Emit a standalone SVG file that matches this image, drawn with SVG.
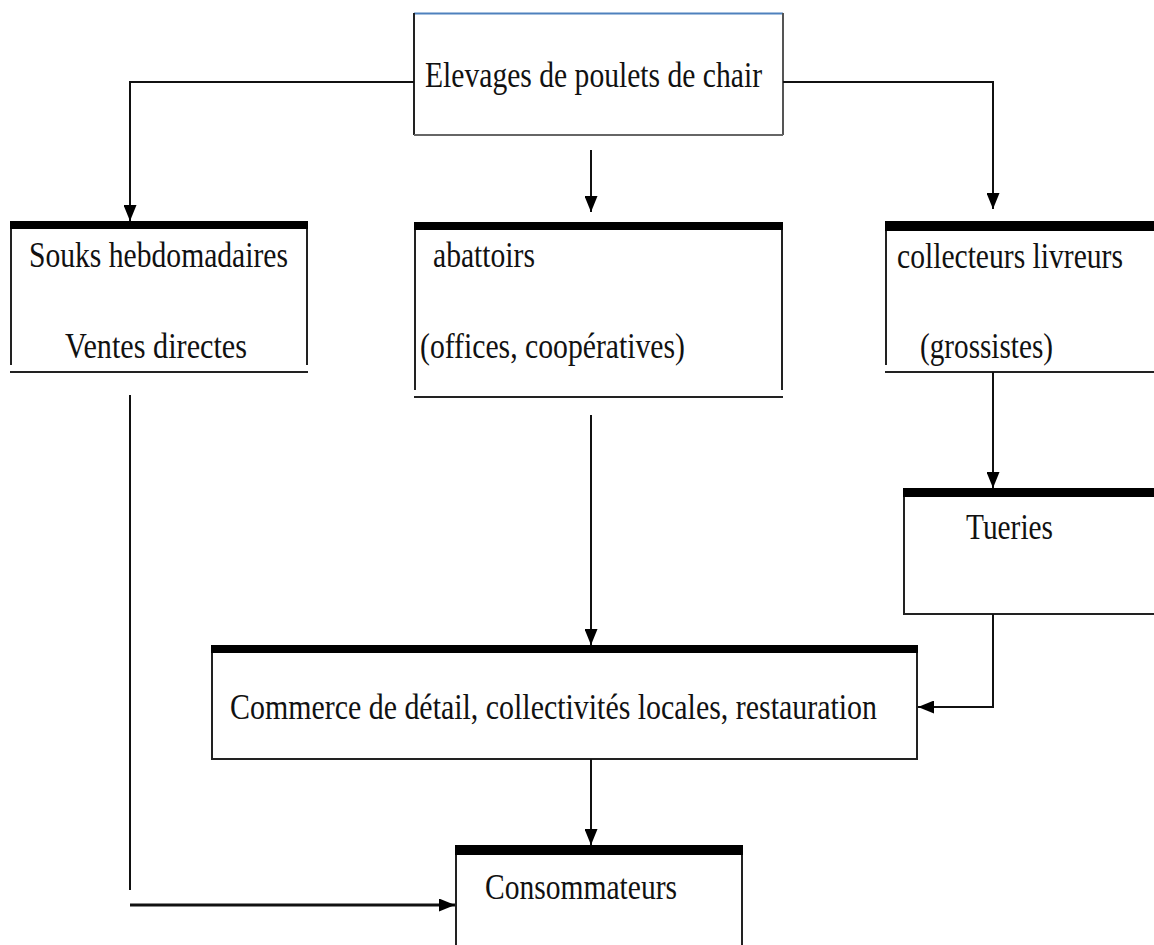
<svg xmlns="http://www.w3.org/2000/svg" width="1154" height="945" viewBox="0 0 1154 945">
<defs>
<marker id="ah" markerUnits="userSpaceOnUse" markerWidth="16" markerHeight="13" viewBox="0 0 16 13" refX="16" refY="6.5" orient="auto">
<path d="M0,0 L16,6.5 L0,13 Z" fill="#000"/>
</marker>
<style>
.t{font-family:"Liberation Serif","Times New Roman",serif;font-size:35px;fill:#111;}
.ln{stroke:#222;stroke-width:2;fill:none;}
.bar{fill:#000;}
.c{stroke:#111;stroke-width:2;fill:none;}
.ca{stroke:#111;stroke-width:2;fill:none;marker-end:url(#ah);}
</style>
</defs>
<rect width="1154" height="945" fill="#fff"/>

<g id="elevages">
<line x1="414" y1="13.5" x2="783" y2="13.5" stroke="#4f81bd" stroke-width="2"/>
<line class="ln" x1="414" y1="13" x2="414" y2="135"/>
<line x1="783" y1="13" x2="783" y2="135" stroke="#555" stroke-width="2"/>
<line x1="414" y1="135" x2="783" y2="135" stroke="#666" stroke-width="2"/>
<text class="t" x="425" y="87" textLength="337" lengthAdjust="spacingAndGlyphs">Elevages de poulets de chair</text>
</g>

<g id="souks">
<rect class="bar" x="10" y="221" width="298" height="8"/>
<line class="ln" x1="11" y1="229" x2="11" y2="365"/>
<line class="ln" x1="307" y1="229" x2="307" y2="365"/>
<line class="ln" x1="10" y1="372" x2="308" y2="372"/>
<text class="t" x="29" y="267" textLength="259" lengthAdjust="spacingAndGlyphs">Souks hebdomadaires</text>
<text class="t" x="65" y="358" textLength="182" lengthAdjust="spacingAndGlyphs">Ventes directes</text>
</g>

<g id="abattoirs">
<rect class="bar" x="414" y="222" width="369" height="8"/>
<line class="ln" x1="415" y1="230" x2="415" y2="390"/>
<line class="ln" x1="782" y1="230" x2="782" y2="390"/>
<line class="ln" x1="414" y1="397" x2="783" y2="397"/>
<text class="t" x="433" y="267" textLength="102" lengthAdjust="spacingAndGlyphs">abattoirs</text>
<text class="t" x="420" y="358" textLength="265" lengthAdjust="spacingAndGlyphs">(offices, coopératives)</text>
</g>

<g id="collecteurs">
<rect class="bar" x="885" y="221" width="269" height="10"/>
<line class="ln" x1="886" y1="231" x2="886" y2="365"/>
<line class="ln" x1="885" y1="372" x2="1154" y2="372"/>
<text class="t" x="897" y="268" textLength="226" lengthAdjust="spacingAndGlyphs">collecteurs livreurs</text>
<text class="t" x="920" y="358" textLength="133" lengthAdjust="spacingAndGlyphs">(grossistes)</text>
</g>

<g id="tueries">
<rect class="bar" x="903" y="488" width="251" height="9"/>
<line class="ln" x1="904" y1="497" x2="904" y2="613"/>
<line class="ln" x1="903" y1="614" x2="1154" y2="614"/>
<text class="t" x="966" y="539" textLength="87" lengthAdjust="spacingAndGlyphs">Tueries</text>
</g>

<g id="commerce">
<rect class="bar" x="211" y="645" width="707" height="8"/>
<path class="ln" d="M212,653 V759 H917 V653"/>
<text class="t" x="230" y="719" textLength="647" lengthAdjust="spacingAndGlyphs">Commerce de détail, collectivités locales, restauration</text>
</g>

<g id="consommateurs">
<rect class="bar" x="455" y="845" width="288" height="10"/>
<line class="ln" x1="456" y1="855" x2="456" y2="945"/>
<line class="ln" x1="742" y1="855" x2="742" y2="945"/>
<text class="t" x="485" y="899" textLength="192" lengthAdjust="spacingAndGlyphs">Consommateurs</text>
</g>

<g id="connectors">
<path class="ca" d="M414,82 H130 V221"/>
<path class="ca" d="M591,150 V212"/>
<path class="ca" d="M783,82 H993 V209"/>
<path class="ca" d="M993,372 V488"/>
<path class="ca" d="M591,415 V645"/>
<path class="ca" d="M993,614 V707 H918"/>
<path class="ca" d="M591,759 V845"/>
<path class="c" d="M130,395 V890"/>
<path class="ca" d="M130,905 H455" style="stroke-width:3"/>
</g>
</svg>
